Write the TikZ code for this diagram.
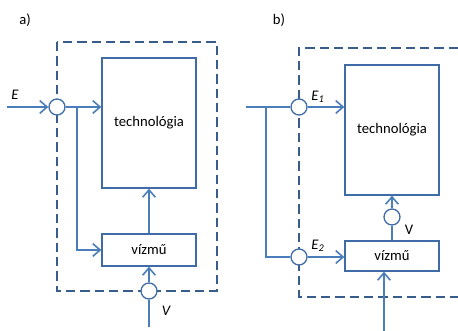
\documentclass[tikz,border=0pt]{standalone}
\usepackage{fontspec}
\setmainfont{Carlito}
\usepackage{tikz}
\usetikzlibrary{arrows.meta,positioning,calc}
\definecolor{flowblue}{HTML}{4A7EBB}
\definecolor{boxblue}{HTML}{3F6CA6}
\definecolor{dashblue}{HTML}{385D8A}
\tikzset{
  % Blocks
  blk/.style={draw=boxblue,line width=1pt,fill=white,align=center,
              font=\fontsize{11}{13}\selectfont,inner sep=0pt},
  % Junction circles
  junc/.style={draw=boxblue,line width=1pt,fill=white,circle,
               minimum size=12pt,inner sep=0pt},
  % System boundary
  bound/.style={draw=dashblue,line width=1pt,dash pattern=on 7pt off 3.75pt},
  % Connectors & labels
  fl/.style={-{Straight Barb[length=5.5pt,width=9.5pt,line width=1.2pt]},flowblue,line width=1.5pt},
  ln/.style={flowblue,line width=1.5pt},
  lb/.style={font=\fontsize{11}{13}\selectfont,inner sep=0pt}
}
\begin{document}
\begin{tikzpicture}[x=0.75pt,y=-0.75pt]
  \useasboundingbox (0,0) rectangle (458,331);

  % ---------- a) ----------
  \node[lb] (tagA) at (25,20) {a)};
  \draw[bound] (57,42) rectangle (217,291);

  \node[blk,minimum width=70.5pt,minimum height=97.5pt] (techA) at (149,123) {technológia};
  \node[blk,minimum width=70.5pt,minimum height=24pt] (vizA) at (149,250) {vízmű};

  \node[junc] (eA) at (57,107) {};
  \node[junc] (vA) at (149,291) {};
  \coordinate (eInA) at (7,107);
  \coordinate (vInA) at (149,327);
  \coordinate (brA) at (77,107);

  \node[lb] (lblE) at (15,95) {\itshape E};
  \node[lb] (lblVA) at (166,311) {\itshape V};

  \draw[fl] (eInA) -- (eA.west);
  \draw[fl] (eA.east) -- (eA -| techA.west);
  \draw[fl] (brA) |- (vizA.west);
  \draw[fl] (vizA.north) -- (techA.south);
  \draw[ln] (vInA) -- (vA.south);
  \draw[fl] (vA.north) -- (vizA.south);

  % ---------- b) ----------
  \node[lb] (tagB) at (279,20) {b)};
  \draw[bound] (458,48) -- (299,48) -- (299,297) -- (458,297);

  \node[blk,minimum width=70.5pt,minimum height=97.5pt] (techB) at (392,130) {technológia};
  \node[blk,minimum width=70.5pt,minimum height=22.5pt] (vizB) at (392,256) {vízmű};

  \node[junc] (e1B) at (299,107) {};
  \node[junc] (e2B) at (299,257) {};
  \node[junc] (vB) at (392,217) {};
  \coordinate (eInB) at (246,107);
  \coordinate (brB) at (266,107);
  \coordinate (vInB) at (384,331);

  \node[lb] (lblE1) at (318,97) {\itshape E\textsubscript{1}};
  \node[lb] (lblE2) at (318,246) {\itshape E\textsubscript{2}};
  \node[lb] (lblVB) at (409,230) {V};

  \draw[ln] (eInB) -- (e1B.west);
  \draw[fl] (e1B.east) -- (e1B -| techB.west);
  \draw[ln] (brB) |- (e2B.west);
  \draw[fl] (e2B.east) -- (e2B -| vizB.west);
  \draw[ln] (vizB.north) -- (vB.south);
  \draw[fl] (vB.north) -- (techB.south);
  \draw[fl] (vInB) -- (vInB |- vizB.south);
\end{tikzpicture}
\end{document}
